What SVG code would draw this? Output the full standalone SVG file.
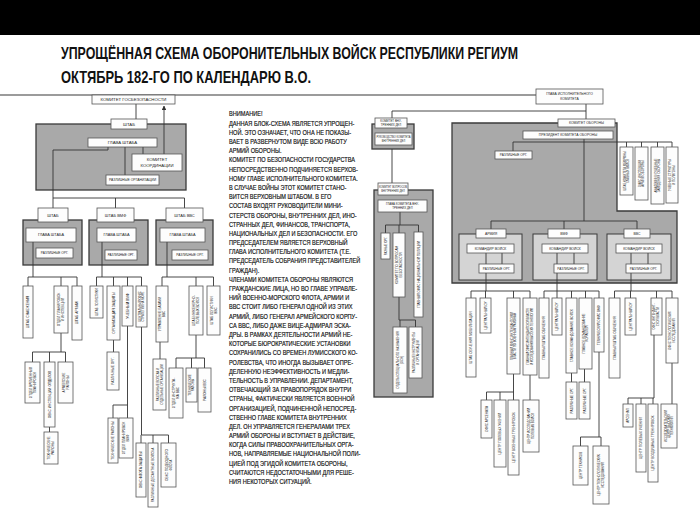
<svg xmlns="http://www.w3.org/2000/svg" width="700" height="513" viewBox="0 0 700 513">
<style>
.b{fill:#fdfdfd;stroke:#555;stroke-width:0.8}
.g{fill:#a9a9a9;stroke:#3a3a3a;stroke-width:1.3}
.gl{fill:#d4d4d4;stroke:#3a3a3a;stroke-width:1}
.c{fill:none;stroke:#333;stroke-width:0.9}
.top{fill:none;stroke:#7a7a7a;stroke-width:1.6}
.t{font-family:"Liberation Sans",Arial,sans-serif;fill:#222;text-anchor:middle;dominant-baseline:central}
.title{font-family:"Liberation Sans",Arial,sans-serif;font-weight:bold;font-size:17px;fill:#111}
.p{font-family:"Liberation Sans",Arial,sans-serif;font-size:7px;fill:#111;stroke:#111;stroke-width:0.18}
</style>
<defs>
<marker id="arr" viewBox="0 0 10 10" refX="9" refY="5" markerWidth="5" markerHeight="5" orient="auto"><path d="M0,0 L10,5 L0,10 z" fill="#333"/></marker>
</defs>
<rect x="0" y="0" width="700" height="513" fill="#fff"/>
<rect x="0" y="0" width="700" height="35" fill="#000"/>
<text class="title" x="61" y="59" textLength="457" lengthAdjust="spacingAndGlyphs">УПРОЩЁННАЯ СХЕМА ОБОРОНИТЕЛЬНЫХ ВОЙСК РЕСПУБЛИКИ РЕГИУМ</text>
<text class="title" x="61" y="83" textLength="250" lengthAdjust="spacingAndGlyphs">ОКТЯБРЬ 182-ГО ПО КАЛЕНДАРЮ В.О.</text>

<g id="note" transform="matrix(0.8,0,0,1,229,0)">
<text class="p" x="0" y="116.5">ВНИМАНИЕ!</text>
<text class="p" x="0" y="125.7">ДАННАЯ БЛОК-СХЕМА ЯВЛЯЕТСЯ УПРОЩЕН-</text>
<text class="p" x="0" y="134.9">НОЙ. ЭТО ОЗНАЧАЕТ, ЧТО ОНА НЕ ПОКАЗЫ-</text>
<text class="p" x="0" y="144.1">ВАЕТ В РАЗВЕРНУТОМ ВИДЕ ВСЮ РАБОТУ</text>
<text class="p" x="0" y="153.3">АРМИЙ ОБОРОНЫ.</text>
<text class="p" x="0" y="162.5">КОМИТЕТ ПО БЕЗОПАСНОСТИ ГОСУДАРСТВА</text>
<text class="p" x="0" y="171.6">НЕПОСРЕДСТВЕННО ПОДЧИНЯЕТСЯ ВЕРХОВ-</text>
<text class="p" x="0" y="180.8">НОМУ ГЛАВЕ ИСПОЛНИТЕЛЬНОГО КОМИТЕТА.</text>
<text class="p" x="0" y="190.0">В СЛУЧАЕ ВОЙНЫ ЭТОТ КОМИТЕТ СТАНО-</text>
<text class="p" x="0" y="199.2">ВИТСЯ ВЕРХОВНЫМ ШТАБОМ. В ЕГО</text>
<text class="p" x="0" y="208.4">СОСТАВ ВХОДЯТ РУКОВОДИТЕЛИ МИНИ-</text>
<text class="p" x="0" y="217.6">СТЕРСТВ ОБОРОНЫ, ВНУТРЕННИХ ДЕЛ, ИНО-</text>
<text class="p" x="0" y="226.8">СТРАННЫХ ДЕЛ, ФИНАНСОВ, ТРАНСПОРТА,</text>
<text class="p" x="0" y="236.0">НАЦИОНАЛЬНЫХ ДЕЛ И БЕЗОПАСНОСТИ. ЕГО</text>
<text class="p" x="0" y="245.2">ПРЕДСЕДАТЕЛЕМ ЯВЛЯЕТСЯ ВЕРХОВНЫЙ</text>
<text class="p" x="0" y="254.4">ГЛАВА ИСПОЛНИТЕЛЬНОГО КОМИТЕТА (Т.Е.</text>
<text class="p" x="0" y="263.5">ПРЕДСЕДАТЕЛЬ СОБРАНИЯ ПРЕДСТАВИТЕЛЕЙ</text>
<text class="p" x="0" y="272.7">ГРАЖДАН).</text>
<text class="p" x="0" y="281.9">ЧЛЕНАМИ КОМИТЕТА ОБОРОНЫ ЯВЛЯЮТСЯ</text>
<text class="p" x="0" y="291.1">ГРАЖДАНСКИЕ ЛИЦА, НО ВО ГЛАВЕ УПРАВЛЕ-</text>
<text class="p" x="0" y="300.3">НИЙ ВОЕННО-МОРСКОГО ФЛОТА, АРМИИ И</text>
<text class="p" x="0" y="309.5">ВВС СТОИТ ЛИБО ГЕНЕРАЛ ОДНОЙ ИЗ ЭТИХ</text>
<text class="p" x="0" y="318.7">АРМИЙ, ЛИБО ГЕНЕРАЛ АРМЕЙСКОГО КОРПУ-</text>
<text class="p" x="0" y="327.9">СА ВВС, ЛИБО ДАЖЕ ВИЦЕ-АДМИРАЛ ЭСКА-</text>
<text class="p" x="0" y="337.1">ДРЫ. В РАМКАХ ДЕЯТЕЛЬНОСТИ АРМИЙ НЕ-</text>
<text class="p" x="0" y="346.3">КОТОРЫЕ БЮРОКРАТИЧЕСКИЕ УСТАНОВКИ</text>
<text class="p" x="0" y="355.4">СОХРАНИЛИСЬ СО ВРЕМЕН ЛУМИССКОГО КО-</text>
<text class="p" x="0" y="364.6">РОЛЕВСТВА, ЧТО ИНОГДА ВЫЗЫВАЕТ ОПРЕ-</text>
<text class="p" x="0" y="373.8">ДЕЛЕННУЮ НЕЭФФЕКТИВНОСТЬ И МЕДЛИ-</text>
<text class="p" x="0" y="383.0">ТЕЛЬНОСТЬ В УПРАВЛЕНИИ. ДЕПАРТАМЕНТ,</text>
<text class="p" x="0" y="392.2">ОТВЕЧАЮЩИЙ ЗА ПРАВОПОРЯДОК ВНУТРИ</text>
<text class="p" x="0" y="401.4">СТРАНЫ, ФАКТИЧЕСКИ ЯВЛЯЕТСЯ ВОЕННОЙ</text>
<text class="p" x="0" y="410.6">ОРГАНИЗАЦИЕЙ, ПОДЧИНЕННОЙ НЕПОСРЕД-</text>
<text class="p" x="0" y="419.8">СТВЕННО ГЛАВЕ КОМИТЕТА ВНУТРЕННИХ</text>
<text class="p" x="0" y="429.0">ДЕЛ. ОН УПРАВЛЯЕТСЯ ГЕНЕРАЛАМИ ТРЕХ</text>
<text class="p" x="0" y="438.2">АРМИЙ ОБОРОНЫ И ВСТУПАЕТ В ДЕЙСТВИЕ,</text>
<text class="p" x="0" y="447.3">КОГДА СИЛЫ ПРАВООХРАНИТЕЛЬНЫХ ОРГА-</text>
<text class="p" x="0" y="456.5">НОВ, НАПРАВЛЯЕМЫЕ НАЦИОНАЛЬНОЙ ПОЛИ-</text>
<text class="p" x="0" y="465.7">ЦИЕЙ ПОД ЭГИДОЙ КОМИТЕТА ОБОРОНЫ,</text>
<text class="p" x="0" y="474.9">СЧИТАЮТСЯ НЕДОСТАТОЧНЫМИ ДЛЯ РЕШЕ-</text>
<text class="p" x="0" y="484.1">НИЯ НЕКОТОРЫХ СИТУАЦИЙ.</text>
</g>

<g id="containers">
<rect id="c-shtab-main" class="g" x="36" y="124" width="150" height="66"/>
<rect id="c-shtab" class="g" x="23" y="220" width="59" height="45"/>
<rect id="c-shtab-vmf" class="g" x="89" y="220" width="59" height="45"/>
<rect id="c-shtab-vvs" class="g" x="156" y="220" width="57" height="45"/>
<rect id="c-kvd" class="g" x="372" y="124" width="42" height="25"/>
<rect id="c-kvvd" class="g" x="374" y="190" width="59" height="207"/>
<polygon id="c-ko" class="g" points="452,123 617,123 617,211 677,211 677,283 452,283"/>
<rect id="c-army" class="gl" x="459" y="234" width="63" height="46"/>
<rect id="c-vmf" class="gl" x="533" y="234" width="64" height="46"/>
<rect id="c-vvs" class="gl" x="607" y="234" width="64" height="46"/>
</g>

<g id="connectors">
<path class="top" d="M0,95 H536"/>
<path class="c" d="M392,118 V111 H586 M586,104 V119"/>
<path class="c" d="M136,104 V119"/>
<path class="c" d="M164,154 V106" marker-end="url(#arr)"/>
<path class="c" d="M125,147 V175 M143,147 V154"/>
<path class="c" d="M108,147 V150 H53 V208 M53,198 H184.5 M115.5,198 V208 M184.5,198 V208"/>
<path class="c" d="M33,242 V277 M28,277 H77 M28,277 V286 M61,277 V286 M77,277 V286"/>
<path class="c" d="M61,333 V352 M32.5,352 H65.5 M32.5,352 V362 M49.5,352 V362 M65.5,352 V362 M49.5,427 V432"/>
<path class="c" d="M102,242 V277 M96.5,277 H141.5 M96.5,277 V286 M113.5,277 V286 M127.5,277 V286 M141.5,277 V286"/>
<path class="c" d="M113.5,340 V352 M127.5,326 V405 H113 V418 M127.5,405 V418"/>
<path class="c" d="M141.5,327 V435 H168.5 V443 M141,435 V443 M153,435 V443"/>
<path class="c" d="M167,242 V277 M162,277 H213.5 M162,277 V286 M196,277 V286 M213.5,277 V286"/>
<path class="c" d="M160,342 V359 M196,335 V358 M176,358 H204.5 M176,358 V368 M191.5,358 V368 M204.5,358 V368"/>
<path class="c" d="M392,149 V183 M400,212 V225 M385.5,225 H418.5 M385.5,225 V233 M399,225 V233 M418.5,225 V232"/>
<path class="c" d="M399,297 V320 H415.5 V327 M400,320 V327"/>
<path class="c" d="M584,139 V221 M491,221 H637 M491,221 V229 M564,221 V229 M637,221 V229"/>
<path class="c" d="M513,142 H672 M513,142 V151 M626.5,142 V147 M641.5,142 V147 M657.5,142 V147 M672,142 V147"/>
<path class="c" d="M486,253 V291 M502,253 V264 M557,253 V291 M574,253 V264 M631,253 V291 M648,253 V264"/>
<path class="c" d="M471,291 H530 M471,291 V298 M485.5,291 V298 M513.5,291 V298 M530,291 V298"/>
<path class="c" d="M513.5,374 V392 M486.5,392 H513.5 M486.5,392 V400 M500,392 V400 M513.5,392 V400 M530,375 V400"/>
<path class="c" d="M544,291 H599 M544,291 V298 M557,291 V298 M571.5,291 V298 M585.5,291 V298 M599,291 V298"/>
<path class="c" d="M571.5,373 V382 M584.5,369 V382 M599,352 V437 M580.5,437 H601 M580.5,437 V446 M601,437 V446"/>
<path class="c" d="M614.5,291 H672 M614.5,291 V298 M630.5,291 V298 M656.5,291 V298 M672,291 V298"/>
<path class="c" d="M654,335 V398 M628,398 H654 M628,398 V404 M641,398 V404 M653,398 V404 M672,363 V404"/>
</g>

<g id="nodes">
<g id="n-gosbez"><rect class="b" x="92" y="95" width="83" height="9"/><text class="t" x="133.5" y="99.5" font-size="4.3">КОМИТЕТ ГОСБЕЗОПАСНОСТИ</text></g>
<g id="n-shtab-main"><rect class="b" x="111" y="119" width="36" height="10"/><text class="t" x="129" y="124" font-size="4.3">ШТАБ</text></g>
<g id="n-glava-main"><rect class="b" x="88" y="138" width="69" height="9"/><text class="t" x="122.5" y="142.5" font-size="4.3">ГЛАВА ШТАБА</text></g>
<g id="n-koord"><rect class="b" x="132" y="154" width="50" height="17"/><text class="t" x="157" y="159.8" font-size="4.3">КОМИТЕТ</text><text class="t" x="157" y="165.5" font-size="4.3">КООРДИНАЦИИ</text></g>
<g id="n-razl-main"><rect class="b" x="106" y="175" width="53" height="10"/><text class="t" x="132.5" y="180" font-size="3.4">РАЗЛИЧНЫЕ ОРГАНИЗАЦИИ</text></g>

<g id="n-shtab"><rect class="b" x="38" y="208" width="30" height="14"/><text class="t" x="53" y="215" font-size="4">ШТАБ</text></g>
<g id="n-glava1"><rect class="b" x="26" y="228" width="50" height="14"/><text class="t" x="51" y="235" font-size="3.8">ГЛАВА ШТАБА</text></g>
<g id="n-razl1"><rect class="b" x="36" y="248" width="37" height="10"/><text class="t" x="54.5" y="253" font-size="3.2">РАЗЛИЧНЫЕ ОРГ.</text></g>
<g id="n-shtab-vmf"><rect class="b" x="97" y="208" width="37" height="14"/><text class="t" x="115.5" y="215" font-size="4">ШТАБ ВМФ</text></g>
<g id="n-glava2"><rect class="b" x="97" y="228" width="39" height="14"/><text class="t" x="116.5" y="235" font-size="3.8">ГЛАВА ШТАБА</text></g>
<g id="n-razl2"><rect class="b" x="105" y="250" width="32" height="10"/><text class="t" x="121" y="255" font-size="3.1">РАЗЛИЧНЫЕ ОРГ.</text></g>
<g id="n-shtab-vvs"><rect class="b" x="166" y="208" width="37" height="14"/><text class="t" x="184.5" y="215" font-size="4">ШТАБ ВВС</text></g>
<g id="n-glava3"><rect class="b" x="160" y="228" width="45" height="14"/><text class="t" x="182.5" y="235" font-size="3.8">ГЛАВА ШТАБА</text></g>
<g id="n-razl3"><rect class="b" x="172" y="250" width="36" height="10"/><text class="t" x="190" y="255" font-size="3.2">РАЗЛИЧНЫЕ ОРГ.</text></g>

<g id="n-l1"><rect class="b" x="23" y="286" width="10" height="52"/><g transform="translate(28,312) rotate(-90)"><text class="t" font-size="3.4">ШТАБ СНАБЖЕНИЯ</text></g></g>
<g id="n-l2"><rect class="b" x="54" y="286" width="14" height="47"/><g transform="translate(61,309.5) rotate(-90)"><text class="t" y="-2" font-size="3.2">ОТДЕЛ ПЛАНИРОВОК</text><text class="t" y="2" font-size="3.2">И ИНСПЕКЦИЙ</text></g></g>
<g id="n-l3"><rect class="b" x="72" y="286" width="10" height="54"/><g transform="translate(77,313) rotate(-90)"><text class="t" font-size="3.4">ШТАБ АРМИИ</text></g></g>
<g id="n-l2a"><rect class="b" x="25" y="362" width="15" height="41"/><g transform="translate(32.5,382.5) rotate(-90)"><text class="t" y="-2" font-size="3.1">ОТДЕЛ ВРЕМЕННЫХ</text><text class="t" y="2" font-size="3.1">ПЛАНИРОВОК</text></g></g>
<g id="n-l2b"><rect class="b" x="44" y="362" width="11" height="65"/><g transform="translate(49.5,394.5) rotate(-90)"><text class="t" font-size="3.3">ОВКС ИНСПЕКЦИИ ОТДЕЛОВ</text></g></g>
<g id="n-l2c"><rect class="b" x="58" y="362" width="15" height="41"/><g transform="translate(65.5,382.5) rotate(-90)"><text class="t" y="-2" font-size="3.2">АРМЕЙСКИЕ</text><text class="t" y="2" font-size="3.2">РАЙОНЫ</text></g></g>
<g id="n-l2b1"><rect class="b" x="44" y="432" width="14" height="32"/><g transform="translate(51,448) rotate(-90)"><text class="t" y="-2" font-size="3.1">ТЕХНИЧЕСКИЕ</text><text class="t" y="2" font-size="3.1">РАЙОНЫ</text></g></g>

<g id="n-m1"><rect class="b" x="90" y="286" width="13" height="32"/><g transform="translate(96.5,302) rotate(-90)"><text class="t" font-size="3">ШТАБ ЛОГИСТИКИ</text></g></g>
<g id="n-m2"><rect class="b" x="107" y="286" width="13" height="54"/><g transform="translate(113.5,313) rotate(-90)"><text class="t" font-size="3.4">ОРГАНИЗАЦИЯ ЗАЩИТЫ</text></g></g>
<g id="n-m3"><rect class="b" x="122" y="286" width="11" height="40"/><g transform="translate(127.5,306) rotate(-90)"><text class="t" font-size="3.4">УЧЕБНЫЙ ВМФ</text></g></g>
<g id="n-m4"><rect class="b" x="136" y="286" width="11" height="41"/><g transform="translate(141.5,306.5) rotate(-90)"><text class="t" y="-1.8" font-size="2.8">ЦЕНТРАЛЬНЫЙ ОФИС</text><text class="t" y="1.8" font-size="2.8">СТРАТЕГИИ НА МОРЕ</text></g></g>
<g id="n-m2a"><rect class="b" x="107" y="352" width="12" height="38"/><g transform="translate(113,371) rotate(-90)"><text class="t" font-size="3.2">РАЗЛИЧНЫЕ ОРГ.</text></g></g>
<g id="n-m3a"><rect class="b" x="108" y="418" width="10" height="45"/><g transform="translate(113,440.5) rotate(-90)"><text class="t" font-size="3.2">ТЕХНИЧЕСКИЕ РАЙОНЫ</text></g></g>
<g id="n-m3b"><rect class="b" x="119" y="418" width="14" height="40"/><g transform="translate(126,438) rotate(-90)"><text class="t" y="-2" font-size="3.1">ОТДЕЛ ПЛАНИРОВОК</text><text class="t" y="2" font-size="3.1">ВМФ</text></g></g>
<g id="n-m4a"><rect class="b" x="136" y="443" width="10" height="54"/><g transform="translate(141,470) rotate(-90)"><text class="t" font-size="3.3">ОВКС ФЛОТА ЗАЩИТЫ</text></g></g>
<g id="n-m4b"><rect class="b" x="148" y="443" width="10" height="64"/><g transform="translate(153,475) rotate(-90)"><text class="t" font-size="3.2">РАЗЛИЧНЫЕ ДЕСАНТНЫЕ ВОЙСКА</text></g></g>
<g id="n-m4c"><rect class="b" x="161" y="443" width="15" height="44"/><g transform="translate(168.5,465) rotate(-90)"><text class="t" y="-2" font-size="3.2">ОВКС ПОДВОДНОГО</text><text class="t" y="2" font-size="3.2">ФЛОТА</text></g></g>

<g id="n-r1"><rect class="b" x="156" y="286" width="12" height="56"/><g transform="translate(162,314) rotate(-90)"><text class="t" y="-1.9" font-size="3.1">УПРАВЛЕНИЕ БАЗАМИ</text><text class="t" y="1.9" font-size="3.1">ВВС</text></g></g>
<g id="n-r2"><rect class="b" x="189" y="286" width="14" height="49"/><g transform="translate(196,310.5) rotate(-90)"><text class="t" y="-2" font-size="3.1">ШТАБ ИНЖЕНЕРНО-</text><text class="t" y="2" font-size="3.1">ПОЛЕВЫХ ВОЙСК</text></g></g>
<g id="n-r3"><rect class="b" x="207" y="286" width="13" height="49"/><g transform="translate(213.5,310.5) rotate(-90)"><text class="t" y="-2" font-size="3.1">ШТАБ ЛОГИСТИКИ</text><text class="t" y="2" font-size="3.1">ВВС</text></g></g>
<g id="n-r1a"><rect class="b" x="153" y="359" width="13" height="51"/><g transform="translate(159.5,384.5) rotate(-90)"><text class="t" y="-2" font-size="2.9">РАЗЛИЧНЫЕ ВОЙСКА И</text><text class="t" y="2" font-size="2.9">ОТДЕЛЬНЫЕ ОРГАНИЗАЦИИ</text></g></g>
<g id="n-r2a"><rect class="b" x="169" y="368" width="14" height="50"/><g transform="translate(176,393) rotate(-90)"><text class="t" y="-2" font-size="3.1">ОТДЕЛ ИНСТРУКТА-</text><text class="t" y="2" font-size="3.1">ЖА ВВС</text></g></g>
<g id="n-r2b"><rect class="b" x="186" y="368" width="11" height="34"/><g transform="translate(191.5,385) rotate(-90)"><text class="t" y="-1.8" font-size="2.9">ТЕХНИЧЕСКИЕ</text><text class="t" y="1.8" font-size="2.9">РАЙОНЫ</text></g></g>
<g id="n-r2c"><rect class="b" x="198" y="368" width="13" height="44"/><g transform="translate(204.5,390) rotate(-90)"><text class="t" font-size="3.3">РАЙОНЫ ВВС</text></g></g>

<g id="n-kvd"><rect class="b" x="375" y="118" width="32" height="10"/><text class="t" x="391" y="121.3" font-size="2.9">КОМИТЕТ ВНУ-</text><text class="t" x="391" y="124.9" font-size="2.9">ТРЕННИХ ДЕЛ</text></g>
<g id="n-rkvd"><rect class="b" x="375" y="133" width="37" height="12"/><text class="t" x="393.5" y="137.1" font-size="2.6">РУКОВОДСТВО КОМИТЕТА</text><text class="t" x="393.5" y="141" font-size="2.6">ВНУТРЕННИХ ДЕЛ</text></g>
<g id="n-kvvd"><rect class="b" x="378" y="183" width="30" height="12"/><text class="t" x="393" y="187.1" font-size="2.6">КОМИТЕТ ВОПРОСОВ</text><text class="t" x="393" y="191" font-size="2.6">ВНУТРЕННИХ ДЕЛ</text></g>
<g id="n-gkvd"><rect class="b" x="378" y="200" width="49" height="12"/><text class="t" x="402.5" y="204.1" font-size="2.9">ГЛАВА КОМИТЕТА ВНУ-</text><text class="t" x="402.5" y="208.1" font-size="2.9">ТРЕННИХ ДЕЛ</text></g>
<g id="n-c1"><rect class="b" x="381" y="233" width="9" height="26"/><g transform="translate(385.5,246) rotate(-90)"><text class="t" font-size="2.8">РАЗНЫЕ ОРГ.</text></g></g>
<g id="n-c2"><rect class="b" x="393" y="233" width="12" height="64"/><g transform="translate(399,265) rotate(-90)"><text class="t" y="-1.9" font-size="3">КОМИТЕТ ПО ВОПРОСАМ</text><text class="t" y="1.9" font-size="3">БЕЗОПАСНОСТИ</text></g></g>
<g id="n-c3"><rect class="b" x="414" y="232" width="9" height="85"/><g transform="translate(418.5,274.5) rotate(-90)"><text class="t" font-size="3">ГЛАВНЫЙ ОФИС НАЦИОНАЛЬНОЙ ПОЛИЦИИ</text></g></g>
<g id="n-c4"><rect class="b" x="393" y="327" width="14" height="66"/><g transform="translate(400,360) rotate(-90)"><text class="t" y="-2" font-size="2.9">ОТДЕЛЫ СПЕЦИАЛЬНОГО НАЗНАЧЕНИЯ</text><text class="t" y="2" font-size="2.9">(ОСН)</text></g></g>
<g id="n-c5"><rect class="b" x="409" y="327" width="13" height="51"/><g transform="translate(415.5,352.5) rotate(-90)"><text class="t" y="-2" font-size="2.9">РАЗЛИЧНЫЕ ИНСТРУМЕНТЫ</text><text class="t" y="2" font-size="2.9">И ОРГАНИЗАЦИИ</text></g></g>

<g id="n-gik"><rect class="b" x="536" y="89" width="67" height="15"/><text class="t" x="569.5" y="94" font-size="3.4">ГЛАВА ИСПОЛНИТЕЛЬНОГО</text><text class="t" x="569.5" y="99.3" font-size="3.4">КОМИТЕТА</text></g>
<g id="n-ko"><rect class="b" x="558" y="119" width="57" height="8"/><text class="t" x="586.5" y="123" font-size="3.4">КОМИТЕТ ОБОРОНЫ</text></g>
<g id="n-pko"><rect class="b" x="523" y="131" width="90" height="8"/><text class="t" x="568" y="135" font-size="3.4">ПРЕЗИДЕНТ КОМИТЕТА ОБОРОНЫ</text></g>
<g id="n-razl-ko"><rect class="b" x="495" y="151" width="37" height="8"/><text class="t" x="513.5" y="155" font-size="3.2">РАЗЛИЧНЫЕ ОРГ.</text></g>
<g id="n-t1"><rect class="b" x="620" y="147" width="13" height="48"/><g transform="translate(626.5,171) rotate(-90)"><text class="t" y="-1.9" font-size="2.8">ШТАБ КОМИТЕТА ОБОРОНЫ</text><text class="t" y="1.9" font-size="2.8">ГЛАВНЫХ ВОЙСК</text></g></g>
<g id="n-t2"><rect class="b" x="635" y="147" width="13" height="53"/><g transform="translate(641.5,173.5) rotate(-90)"><text class="t" y="-1.9" font-size="2.9">ОФИС ИНСПЕКЦИИ</text><text class="t" y="1.9" font-size="2.9">АРМИЙ ОБОРОНЫ</text></g></g>
<g id="n-t3"><rect class="b" x="651" y="147" width="13" height="57"/><g transform="translate(657.5,175.5) rotate(-90)"><text class="t" y="-1.9" font-size="2.9">АКАДЕМИИ И УЧЕБНЫЕ</text><text class="t" y="1.9" font-size="2.9">ЗАВЕДЕНИЯ ОБОРОНЫ</text></g></g>
<g id="n-t4"><rect class="b" x="666" y="147" width="12" height="56"/><g transform="translate(672,175) rotate(-90)"><text class="t" y="-1.8" font-size="2.9">УЧЕБНЫЕ СТРУКТУРЫ</text><text class="t" y="1.8" font-size="2.9">И ПОЛИГОНЫ</text></g></g>

<g id="n-army"><rect class="b" x="476" y="229" width="30" height="9"/><text class="t" x="491" y="233.5" font-size="3.4">АРМИЯ</text></g>
<g id="n-vmf"><rect class="b" x="548" y="229" width="32" height="9"/><text class="t" x="564" y="233.5" font-size="3.4">ВМФ</text></g>
<g id="n-vvs"><rect class="b" x="624" y="229" width="26" height="9"/><text class="t" x="637" y="233.5" font-size="3.4">ВВС</text></g>
<g id="n-kom1"><rect class="b" x="467" y="244" width="47" height="9"/><text class="t" x="490.5" y="248.5" font-size="3.4">КОМАНДИР ВОЙСК</text></g>
<g id="n-kom2"><rect class="b" x="542" y="244" width="46" height="9"/><text class="t" x="565" y="248.5" font-size="3.4">КОМАНДИР ВОЙСК</text></g>
<g id="n-kom3"><rect class="b" x="616" y="244" width="46" height="9"/><text class="t" x="639" y="248.5" font-size="3.4">КОМАНДИР ВОЙСК</text></g>
<g id="n-ro1"><rect class="b" x="479" y="264" width="35" height="9"/><text class="t" x="496.5" y="268.5" font-size="3.2">РАЗЛИЧНЫЕ ОРГ.</text></g>
<g id="n-ro2"><rect class="b" x="554" y="264" width="34" height="9"/><text class="t" x="571" y="268.5" font-size="3.2">РАЗЛИЧНЫЕ ОРГ.</text></g>
<g id="n-ro3"><rect class="b" x="626" y="264" width="35" height="9"/><text class="t" x="643.5" y="268.5" font-size="3.2">РАЗЛИЧНЫЕ ОРГ.</text></g>

<g id="n-a1"><rect class="b" x="466" y="298" width="10" height="79"/><g transform="translate(471,337.5) rotate(-90)"><text class="t" font-size="3.1">ШТАБ ОБУЧЕНИЯ МОБИЛИЗАЦИИ</text></g></g>
<g id="n-a2"><rect class="b" x="480" y="298" width="11" height="35"/><g transform="translate(485.5,315.5) rotate(-90)"><text class="t" font-size="3">ЦЕНТРАЛЬНЫЙ ОУ</text></g></g>
<g id="n-a3"><rect class="b" x="507" y="298" width="13" height="76"/><g transform="translate(513.5,336) rotate(-90)"><text class="t" y="-1.9" font-size="2.8">ГЛАВНЫЙ ОФИС ИНТЕНДАНТСКОЙ</text><text class="t" y="1.9" font-size="2.8">ВЛАСТИ ПО ВОЕННЫМ РАЙОНАМ</text></g></g>
<g id="n-a4"><rect class="b" x="523" y="298" width="14" height="77"/><g transform="translate(530,336.5) rotate(-90)"><text class="t" y="-2" font-size="2.6">ГЛАВНЫЙ ОФИС ИНТЕНДАНТСКОЙ ВЛАСТИ</text><text class="t" y="2" font-size="2.6">И ИССЛЕДОВАНИЯ ВЫСОКИХ ТЕХНОЛОГИЙ</text></g></g>
<g id="n-a3a"><rect class="b" x="481" y="400" width="11" height="38"/><g transform="translate(486.5,419) rotate(-90)"><text class="t" font-size="3">ОФИС АРСЕНАЛА</text></g></g>
<g id="n-a3b"><rect class="b" x="494" y="400" width="12" height="67"/><g transform="translate(500,433.5) rotate(-90)"><text class="t" font-size="3.2">ЦЕНТР ПОЛЕВЫХ УЧЕНИЙ</text></g></g>
<g id="n-a3c"><rect class="b" x="508" y="400" width="11" height="75"/><g transform="translate(513.5,437.5) rotate(-90)"><text class="t" font-size="3.2">ЦЕНТР ВОЕННЫХ ТРЕНИРОВОК</text></g></g>
<g id="n-a4a"><rect class="b" x="523" y="400" width="16" height="52"/><g transform="translate(531,426) rotate(-90)"><text class="t" y="-2.1" font-size="3">ЦЕНТР ИССЛЕДОВАНИЙ</text><text class="t" y="2.1" font-size="3">ПОЛЕВЫХ ВОЙСК</text></g></g>

<g id="n-v1"><rect class="b" x="539" y="298" width="10" height="80"/><g transform="translate(544,338) rotate(-90)"><text class="t" font-size="3.2">ГЛАВНЫЙ ШТАБ ОБУЧЕНИЯ</text></g></g>
<g id="n-v2"><rect class="b" x="552" y="298" width="10" height="37"/><g transform="translate(557,316.5) rotate(-90)"><text class="t" font-size="3">ЦЕНТРАЛЬНЫЙ ОУ</text></g></g>
<g id="n-v3"><rect class="b" x="566" y="298" width="11" height="75"/><g transform="translate(571.5,335.5) rotate(-90)"><text class="t" font-size="3.1">ГЛАВНОЕ КОМАНДОВАНИЕ ВОЙСК</text></g></g>
<g id="n-v4"><rect class="b" x="579" y="298" width="13" height="71"/><g transform="translate(585.5,333.5) rotate(-90)"><text class="t" y="-1.9" font-size="3">ГЛАВНОЕ КОМАНДОВАНИЕ</text><text class="t" y="1.9" font-size="3">КОРАБЛЕЙ</text></g></g>
<g id="n-v5"><rect class="b" x="594" y="298" width="10" height="54"/><g transform="translate(599,325) rotate(-90)"><text class="t" font-size="3">ТЕХНИЧЕСКИЙ ОФИС ВМФ</text></g></g>
<g id="n-v3a"><rect class="b" x="566" y="382" width="11" height="37"/><g transform="translate(571.5,400.5) rotate(-90)"><text class="t" font-size="3">РАЗЛИЧНЫЕ ОРГ.</text></g></g>
<g id="n-v4a"><rect class="b" x="579" y="382" width="11" height="37"/><g transform="translate(584.5,400.5) rotate(-90)"><text class="t" font-size="3">РАЗЛИЧНЫЕ ОРГ.</text></g></g>
<g id="n-v5a"><rect class="b" x="573" y="446" width="15" height="39"/><g transform="translate(580.5,465.5) rotate(-90)"><text class="t" font-size="3">ЦЕНТР ТЕХНИКОВ</text></g></g>
<g id="n-v5b"><rect class="b" x="593" y="446" width="16" height="58"/><g transform="translate(601,475) rotate(-90)"><text class="t" y="-2.1" font-size="3">ЦЕНТР ТЕХНОЛОГИЧЕСКИХ</text><text class="t" y="2.1" font-size="3">ИССЛЕДОВАНИЙ</text></g></g>

<g id="n-w1"><rect class="b" x="609" y="298" width="11" height="80"/><g transform="translate(614.5,338) rotate(-90)"><text class="t" font-size="3.2">ГЛАВНЫЙ ШТАБ ОБУЧЕНИЯ</text></g></g>
<g id="n-w2"><rect class="b" x="625" y="298" width="11" height="37"/><g transform="translate(630.5,316.5) rotate(-90)"><text class="t" font-size="3">ЦЕНТРАЛЬНЫЙ ОУ</text></g></g>
<g id="n-w3"><rect class="b" x="651" y="298" width="11" height="37"/><g transform="translate(656.5,316.5) rotate(-90)"><text class="t" y="-1.7" font-size="2.7">ОФИС ИНТЕНДАНТ-</text><text class="t" y="1.7" font-size="2.7">СКОЙ ВЛАСТИ</text></g></g>
<g id="n-w4"><rect class="b" x="666" y="298" width="12" height="65"/><g transform="translate(672,330.5) rotate(-90)"><text class="t" y="-1.8" font-size="2.9">ОФИС ТЕХНОЛОГИЧЕСКИХ</text><text class="t" y="1.8" font-size="2.9">ИССЛЕДОВАНИЙ</text></g></g>
<g id="n-w3a"><rect class="b" x="623" y="404" width="10" height="23"/><g transform="translate(628,415.5) rotate(-90)"><text class="t" font-size="3">АРСЕНАЛ</text></g></g>
<g id="n-w3b"><rect class="b" x="636" y="404" width="10" height="68"/><g transform="translate(641,438) rotate(-90)"><text class="t" font-size="3.2">ЦЕНТР ПОЛЕВЫХ УЧЕНИЙ</text></g></g>
<g id="n-w3c"><rect class="b" x="648" y="404" width="10" height="78"/><g transform="translate(653,443) rotate(-90)"><text class="t" font-size="3.2">ЦЕНТР ВОЗДУШНЫХ ТРЕНИРОВОК</text></g></g>
<g id="n-w4a"><rect class="b" x="661" y="404" width="16" height="44"/><g transform="translate(669,426) rotate(-90)"><text class="t" y="-3.4" font-size="2.8">ИССЛЕДОВАТЕЛЬСКИЙ</text><text class="t" y="0" font-size="2.8">ЦЕНТР ВЫСОКИХ</text><text class="t" y="3.4" font-size="2.8">ТЕХНОЛОГИЙ</text></g></g>
</g>
</svg>
